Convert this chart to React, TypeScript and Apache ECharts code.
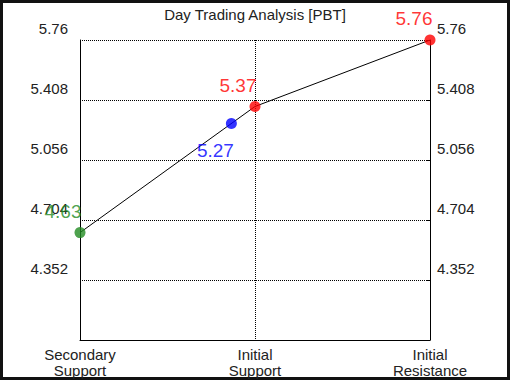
import React, { useEffect, useRef } from "react";
import * as echarts from "echarts";

const title = "Day Trading Analysis [PBT]";
const categories = ["Secondary\nSupport", "Initial\nSupport", "Initial\nResistance"];
const lineValues = [4.63, 5.37, 5.76];
const yMin = 4.0;
const yMax = 5.76;
const yStep = 0.352;
// points: [x position (category index), value, colour]
const pointX = [0, 0.865, 1, 2];
const pointY = [4.63, 5.27, 5.37, 5.76];
const pointColors = ["#228b22", "#0000ff", "#ff0000", "#ff0000"];
const labelOffsets: [number, number][] = [[-17, -21], [-16, 27], [-17, -21], [-16, -22]];

export default function App() {
  const ref = useRef<HTMLDivElement>(null);
  useEffect(() => {
    document.body.style.margin = "0";
    const chart = echarts.init(ref.current!, null, { renderer: "svg" });
    const font = "Liberation Sans, Arial, sans-serif";
    const yAxisCommon = {
      type: "value" as const,
      min: yMin,
      max: yMax,
      interval: yStep,
      axisLine: { show: true, lineStyle: { color: "#000", width: 1 } },
      splitLine: { show: true, lineStyle: { color: "#000", type: [1, 1] as any, width: 1 } },
    };
    const fmt = (v: number) => {
      if (Math.abs(v - yMin) < 1e-6) return "";
      return String(parseFloat(v.toFixed(3)));
    };
    chart.setOption({
      animation: false,
      backgroundColor: "#fff",
      title: {
        text: title,
        left: "center",
        top: 2,
        textStyle: { fontFamily: font, fontSize: 15, fontWeight: "normal", color: "#222" },
      },
      graphic: [
        {
          type: "rect",
          shape: { x: 1.5, y: 1.5, width: 507, height: 377 },
          style: { fill: "none", stroke: "#111", lineWidth: 3 },
          silent: true,
        },
      ],
      grid: { left: 80, right: 80, top: 40, bottom: 40 },
      xAxis: {
        type: "value",
        min: 0,
        max: 2,
        interval: 1,
        axisLine: { show: true, lineStyle: { color: "#000" } },
        axisTick: { show: false },
        splitLine: { show: true, lineStyle: { color: "#000", type: [1, 1], width: 1 } },
        axisLabel: {
          formatter: (v: number) => categories[Math.round(v)] ?? "",
          fontFamily: font,
          fontSize: 15,
          color: "#222",
          lineHeight: 16,
          margin: 6,
          align: "center",
        },
      },
      yAxis: [
        {
          ...yAxisCommon,
          position: "left",
          axisTick: { show: false },
          axisLabel: {
            formatter: fmt,
            fontFamily: font,
            fontSize: 15,
            color: "#222",
            margin: 12,
            verticalAlign: "bottom",
            padding: [0, 0, 4, 0],
          },
        },
        {
          ...yAxisCommon,
          position: "right",
          axisTick: { show: true, inside: true, length: 4, lineStyle: { color: "#000" } },
          axisLabel: {
            formatter: fmt,
            fontFamily: font,
            fontSize: 15,
            color: "#222",
            margin: 7,
            verticalAlign: "bottom",
            padding: [0, 0, 4, 0],
          },
        },
      ],
      series: [
        {
          type: "line",
          data: lineValues.map((v, i) => [i, v]),
          symbol: "none",
          lineStyle: { color: "#000", width: 1 },
          z: 3,
        },
        {
          type: "scatter",
          symbolSize: 11,
          z: 4,
          data: pointX.map((x, i) => ({
            value: [x, pointY[i]],
            itemStyle: { color: pointColors[i] },
            label: {
              show: true,
              position: "inside",
              offset: labelOffsets[i],
              formatter: String(pointY[i]),
              color: pointColors[i],
              fontFamily: font,
              fontSize: 19,
              fontWeight: "normal",
            },
          })),
        },
      ],
    });
    return () => chart.dispose();
  }, []);
  return <div ref={ref} style={{ width: 510, height: 380 }} />;
}
